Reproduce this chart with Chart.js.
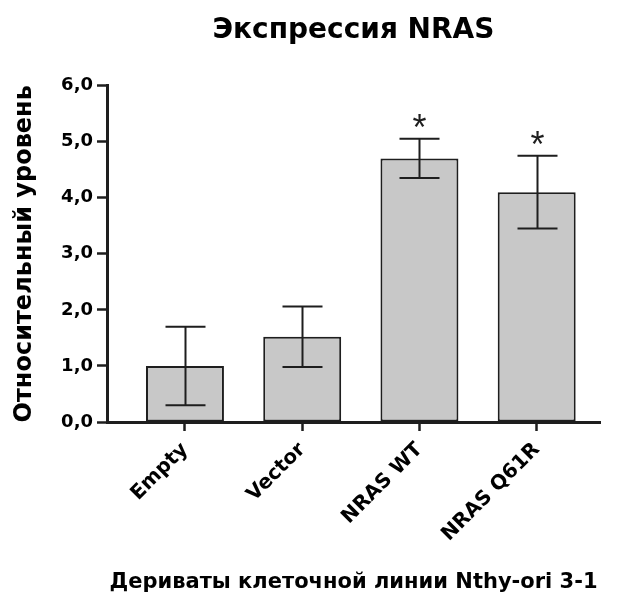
<!DOCTYPE html>
<html>
<head>
<meta charset="utf-8">
<script src="https://cdn.jsdelivr.net/npm/chart.js@4/dist/chart.umd.min.js"></script>
<style>
  html, body { margin: 0; padding: 0; background: #fff; }
  #wrap { width: 629px; height: 601px; }
</style>
</head>
<body>
<div id="wrap"><canvas id="nras-graph"></canvas></div>
<script>
var groups = ['Empty', 'Vector', 'NRAS WT', 'NRAS Q61R'];
var expression = [1.0, 1.52, 4.70, 4.10];
var errors = [0.70, 0.54, 0.35, 0.65];
var marks = ['', '', '*', '*'];
var yTicks = [0, 1, 2, 3, 4, 5, 6];

var colors = {
    bar: '#c8c8c8',
    line: '#1e1e1e',
    text: '#000'
};
var font = '"DejaVu Sans", Verdana, sans-serif';

// error bars and significance marks on top of the bars
var errorBars = {
    id: 'errorBars',
    afterDatasetsDraw: function(chart) {
        var ctx = chart.ctx;
        var y = chart.scales.y;
        var meta = chart.getDatasetMeta(0);
        ctx.save();
        ctx.strokeStyle = colors.line;
        ctx.lineWidth = 2;
        meta.data.forEach(function(bar, i) {
            var top = y.getPixelForValue(expression[i] + errors[i]);
            var bot = y.getPixelForValue(expression[i] - errors[i]);
            var cx = Math.round(bar.x) + 0.5;
            ctx.beginPath();
            ctx.moveTo(cx, top); ctx.lineTo(cx, bot);
            ctx.moveTo(cx - 20, top); ctx.lineTo(cx + 20, top);
            ctx.moveTo(cx - 20, bot); ctx.lineTo(cx + 20, bot);
            ctx.stroke();
            if (marks[i]) {
                ctx.fillStyle = colors.line;
                ctx.font = '36px "Liberation Sans", Arial, sans-serif';
                ctx.textAlign = 'center';
                ctx.textBaseline = 'alphabetic';
                var m = ctx.measureText(marks[i]);
                var mid = top - 18;
                ctx.fillText(marks[i], cx, mid + (m.actualBoundingBoxAscent - m.actualBoundingBoxDescent) / 2);
            }
        });
        ctx.restore();
    }
};

var data = {
    datasets: [{
        data: expression.map(function(v, i) { return { x: i, y: v }; }),
        backgroundColor: colors.bar,
        borderColor: colors.line,
        borderWidth: 2,
        borderSkipped: false,
        categoryPercentage: 1,
        barPercentage: 0.665
    }]
};

var options = {
    responsive: true,
    maintainAspectRatio: false,
    animation: false,
    layout: { padding: { left: 10, right: 29, top: 10, bottom: 4 } },
    plugins: {
        legend: { display: false },
        tooltip: { enabled: false },
        title: {
            display: true,
            text: 'Экспрессия NRAS',
            fullSize: false,
            color: colors.text,
            font: { family: font, size: 28, weight: 'bold' },
            padding: { top: 4, bottom: 38 }
        }
    },
    scales: {
        x: {
            type: 'linear',
            offset: false,
            min: -0.665,
            max: 3.54,
            afterBuildTicks: function(scale) {
                scale.ticks = groups.map(function(g, i) { return { value: i }; });
            },
            afterFit: function(scale) { scale.height = 175; },
            grid: { offset: false, drawOnChartArea: false, drawTicks: true, tickLength: 9, tickColor: colors.line, tickWidth: 2.5 },
            border: { color: colors.line, width: 3 },
            ticks: {
                color: colors.text,
                font: { family: font, size: 20, weight: 'bold' },
                minRotation: 45,
                maxRotation: 45,
                padding: 7,
                callback: function(v) { return groups[v]; }
            },
            title: {
                display: true,
                text: 'Дериваты клеточной линии Nthy-ori 3-1',
                color: colors.text,
                font: { family: font, size: 21, weight: 'bold' },
                padding: { top: 0, bottom: 2 }
            }
        },
        y: {
            min: 0,
            max: 6,
            afterBuildTicks: function(scale) {
                scale.ticks = yTicks.map(function(v) { return { value: v }; });
            },
            afterFit: function(scale) { scale.width = 97; },
            grid: { drawOnChartArea: false, drawTicks: true, tickLength: 10, tickColor: colors.line, tickWidth: 2.5 },
            border: { color: colors.line, width: 3 },
            ticks: {
                color: colors.text,
                font: { family: font, size: 18, weight: 'bold' },
                padding: 4,
                callback: function(v) { return v.toFixed(1).replace('.', ','); }
            },
            title: {
                display: true,
                text: 'Относительный уровень',
                color: colors.text,
                font: { family: font, size: 24, weight: 'bold' },
                padding: { top: 0, bottom: 6 }
            }
        }
    }
};

var ctx = document.getElementById('nras-graph');
var g = new Chart(ctx, {
    type: 'bar',
    data: data,
    options: options,
    plugins: [errorBars]
});
</script>
</body>
</html>
